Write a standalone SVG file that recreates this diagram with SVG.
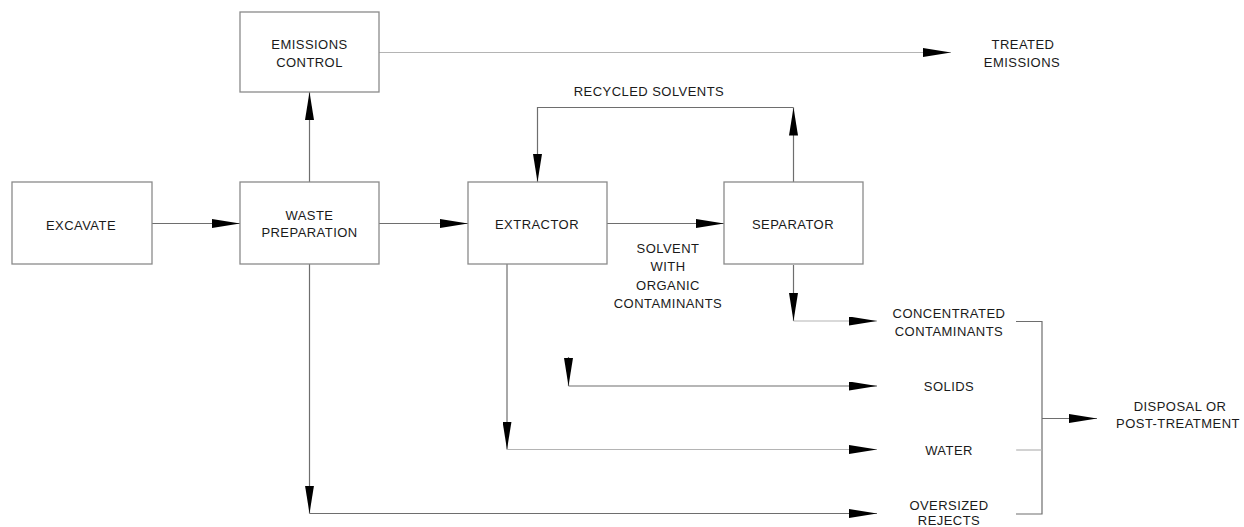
<svg xmlns="http://www.w3.org/2000/svg" width="1244" height="527" viewBox="0 0 1244 527">
<style>
.box{fill:#fff;stroke:#8a8a8a;stroke-width:1.3}
.t{font-family:"Liberation Sans",Arial,sans-serif;font-size:13px;letter-spacing:0.45px;fill:#1a1a1a;text-anchor:middle;dominant-baseline:central}
.ln{fill:none;stroke:#6e6e6e;stroke-width:1.2}
.lt{fill:none;stroke:#b4b4b4;stroke-width:1.2}
</style>
<defs>
<marker id="ah" viewBox="0 0 28 9" refX="28" refY="4.5" markerWidth="28" markerHeight="9" markerUnits="userSpaceOnUse" orient="auto">
<path d="M0,0 L28,4.5 L0,9 Z" fill="#000"/>
</marker>
</defs>
<rect width="1244" height="527" fill="#fff"/>
<g id="connectors">
<path class="ln" d="M152,223.5 H240" marker-end="url(#ah)"/>
<path class="ln" d="M309.5,182 V92" marker-end="url(#ah)"/>
<path class="lt" d="M379,52.5 H951" marker-end="url(#ah)"/>
<path class="ln" d="M379,223.5 H468" marker-end="url(#ah)"/>
<path class="ln" d="M607,223.5 H724" marker-end="url(#ah)"/>
<path class="ln" d="M793.5,182 V107.5" marker-end="url(#ah)"/>
<path class="ln" d="M793.5,107.5 H537.5 V182" marker-end="url(#ah)"/>
<path class="ln" d="M793.5,265 V321" marker-end="url(#ah)"/>
<path class="lt" d="M793.5,321 H877" marker-end="url(#ah)"/>
<path class="ln" d="M568.5,357 V386" marker-end="url(#ah)"/>
<path class="ln" d="M568.5,386 H877" marker-end="url(#ah)"/>
<path class="ln" d="M507,264 V449.5" marker-end="url(#ah)"/>
<path class="lt" d="M507,449.5 H877" marker-end="url(#ah)"/>
<path class="ln" d="M309.5,264 V513.5" marker-end="url(#ah)"/>
<path class="ln" d="M309.5,513.5 H877" marker-end="url(#ah)"/>
<path class="ln" d="M1016,321.5 H1042 V514 H1016"/>
<path class="lt" d="M1016,450 H1042"/>
<path class="ln" d="M1042,418.5 H1097" marker-end="url(#ah)"/>
</g>
<g id="emissions-control">
<rect class="box" x="240" y="12" width="139" height="80"/>
<text class="t" x="309.5" y="44">EMISSIONS</text>
<text class="t" x="309.5" y="62">CONTROL</text>
</g>
<g id="excavate">
<rect class="box" x="12" y="182" width="140" height="82"/>
<text class="t" x="81" y="225">EXCAVATE</text>
</g>
<g id="waste-preparation">
<rect class="box" x="240" y="182" width="139" height="82"/>
<text class="t" x="309.5" y="215">WASTE</text>
<text class="t" x="309.5" y="232">PREPARATION</text>
</g>
<g id="extractor">
<rect class="box" x="468" y="182" width="139" height="82"/>
<text class="t" x="537" y="224">EXTRACTOR</text>
</g>
<g id="separator">
<rect class="box" x="724" y="182" width="139" height="82"/>
<text class="t" x="793" y="224">SEPARATOR</text>
</g>
<g id="treated-emissions">
<text class="t" x="1023" y="44">TREATED</text>
<text class="t" x="1022" y="62">EMISSIONS</text>
</g>
<g id="recycled-solvents-label">
<text class="t" x="649" y="91">RECYCLED SOLVENTS</text>
</g>
<g id="solvent-label">
<text class="t" x="668" y="248">SOLVENT</text>
<text class="t" x="668" y="266">WITH</text>
<text class="t" x="668" y="285">ORGANIC</text>
<text class="t" x="668" y="303">CONTAMINANTS</text>
</g>
<g id="concentrated-contaminants">
<text class="t" x="949" y="313">CONCENTRATED</text>
<text class="t" x="949" y="331">CONTAMINANTS</text>
</g>
<g id="solids">
<text class="t" x="949" y="386">SOLIDS</text>
</g>
<g id="water">
<text class="t" x="949" y="450">WATER</text>
</g>
<g id="oversized-rejects">
<text class="t" x="949" y="505">OVERSIZED</text>
<text class="t" x="949" y="520.5">REJECTS</text>
</g>
<g id="disposal">
<text class="t" x="1180" y="406">DISPOSAL OR</text>
<text class="t" x="1178" y="423.5">POST-TREATMENT</text>
</g>
</svg>
